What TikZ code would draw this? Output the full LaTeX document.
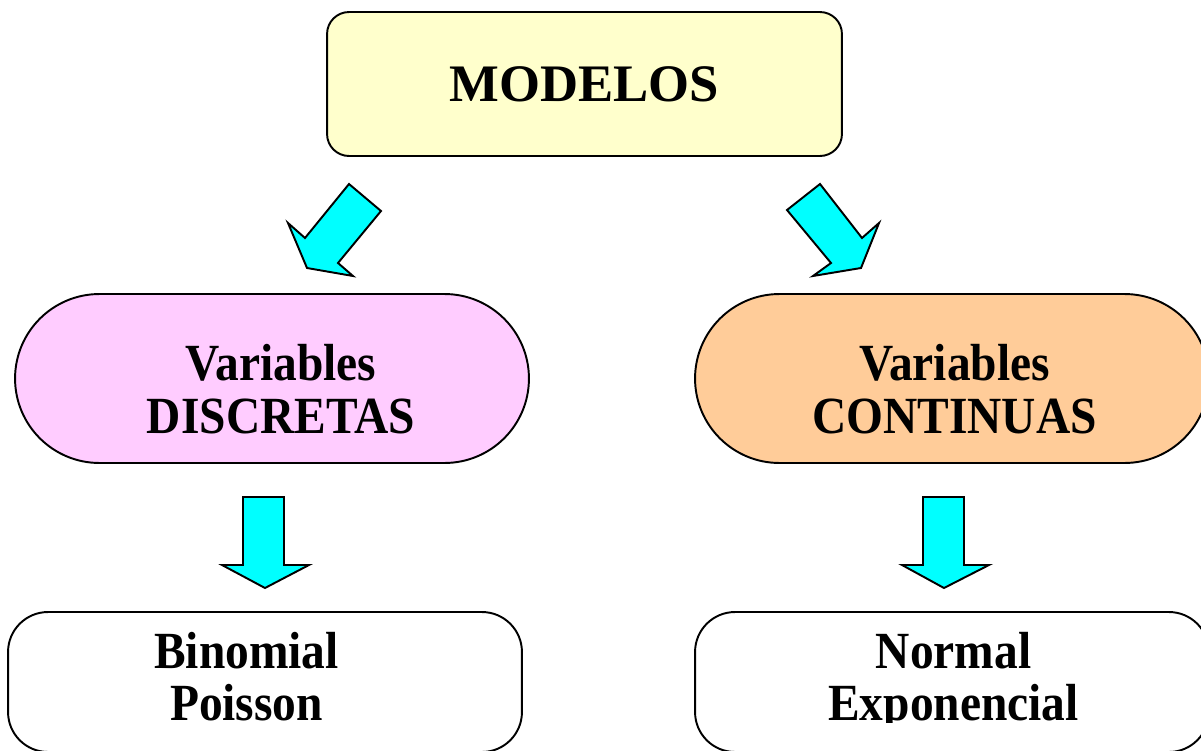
\documentclass[tikz,border=0pt]{standalone}
\usepackage{graphicx}
\usepackage{fontspec}
\setmainfont{Liberation Serif}
\usetikzlibrary{shapes.misc}

\definecolor{modfill}{HTML}{FFFFCC}
\definecolor{discfill}{HTML}{FFCCFF}
\definecolor{contfill}{HTML}{FFCC99}
\definecolor{arrowfill}{HTML}{00FFFF}

% slightly tall bold lettering for the lower labels
\newcommand\tallword[1]{\scalebox{1}[1.1]{#1}}

\tikzset{
  outline/.style={draw=black, line width=1.1pt},
  topbox/.style={outline, fill=modfill, rounded corners=0.44cm,
    minimum width=10.3cm, minimum height=2.88cm, inner sep=0pt,
    font=\fontsize{30}{34}\selectfont\bfseries, text depth=0pt},
  pill/.style={outline, rounded rectangle, minimum width=10.28cm,
    minimum height=3.38cm, inner sep=0pt},
  leafbox/.style={outline, fill=white, rounded corners=0.8cm,
    minimum width=10.28cm, minimum height=2.8cm, inner sep=0pt},
  midlabel/.style={align=center, inner sep=0pt, text depth=0pt,
    font=\fontsize{27}{30.6}\selectfont\bfseries},
  leaflabel/.style={align=center, inner sep=0pt, text depth=0pt,
    font=\fontsize{27}{29.2}\selectfont\bfseries},
  blockarrow/.style={outline, fill=arrowfill, line join=miter},
}

\begin{document}
\begin{tikzpicture}[x=0.02cm, y=-0.02cm]
\useasboundingbox (0,0) rectangle (1201,751);
\clip (0,0) rectangle (1201,751);

% top node
\node[topbox] (modelos) at (584.5,84) {MODELOS};

% the two families of variables
\node[pill, fill=discfill] (disc) at (272,378.5) {};
\node[midlabel] (disctxt) at (281,389) {\tallword{Variables}\\\tallword{DISCRETAS}};
\node[pill, fill=contfill] (cont) at (952,378.5) {};
\node[midlabel] (conttxt) at (954.5,389) {\tallword{Variables}\\\tallword{CONTINUAS}};

% the models of each family
\node[leafbox] (discmod) at (265,682) {};
\node[leafbox] (contmod) at (952,682) {};
\begin{scope}
  \clip (0,0) rectangle (1201,722);
  \node[leaflabel] (disclist) at (246.5,676.5) {\tallword{Binomial}\\\tallword{Poisson}};
  \node[leaflabel] (contlist) at (953.5,676.5) {\tallword{Normal}\\\tallword{Exponencial}};
\end{scope}

% block arrows from MODELOS to the families
\draw[blockarrow] (349,184) -- (381,211) -- (338,263) -- (353,276)
  -- (307,268) -- (288,223) -- (305,238) -- cycle;
\draw[blockarrow] (820,184) -- (787,210) -- (831,263) -- (813,276)
  -- (861,268) -- (879,223) -- (862,238) -- cycle;

% block arrows from the families to their models
\draw[blockarrow] (243,497) -- (284,497) -- (284,565) -- (309,565)
  -- (265,588) -- (222,565) -- (243,565) -- cycle;
\draw[blockarrow] (923,497) -- (964,497) -- (964,565) -- (989,565)
  -- (944,588) -- (902,565) -- (923,565) -- cycle;
\end{tikzpicture}
\end{document}
